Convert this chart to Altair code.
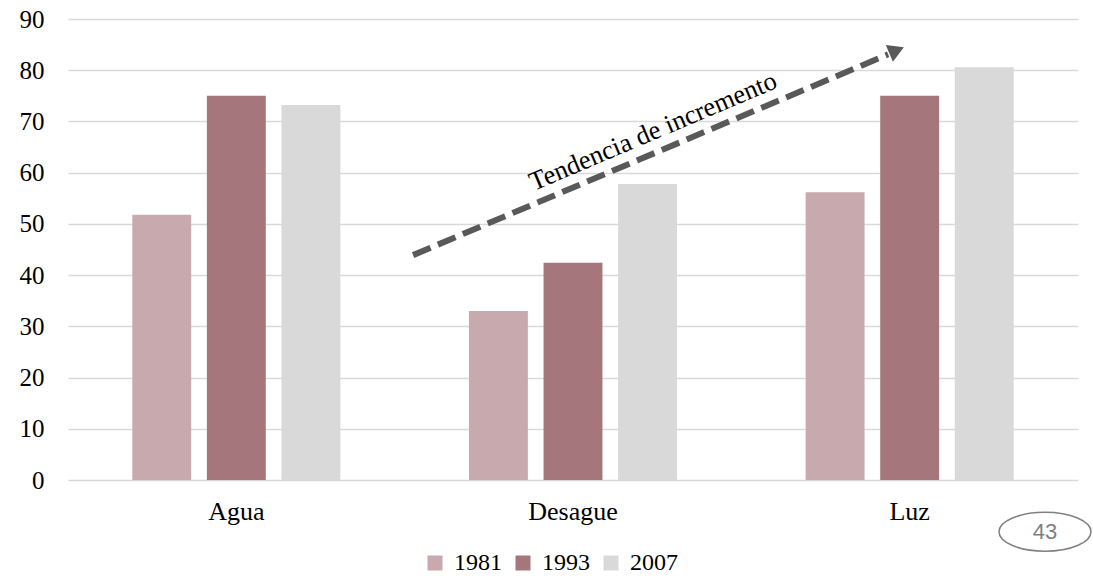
import altair as alt
import pandas as pd

# Service coverage by census year
servicios = ["Agua", "Desague", "Luz"]
anios = ["1981", "1993", "2007"]
valores_1981 = [51.8, 33.0, 56.2]
valores_1993 = [75.0, 42.4, 75.0]
valores_2007 = [73.2, 57.8, 80.6]
colores = ["#c8aaae", "#a5767b", "#d9d9d9"]

# Trend arrow, in category-index units (x) and percent (y)
flecha_x = [1.025, 2.436]
flecha_y = [43.9, 83.1]
punta_x = [2.454]
punta_y = [83.7]
texto_x = [1.738]
texto_y = [68.0]
pagina_x = [2.902]
pagina_y = [-10.1]

FONT = "Liberation Serif"

rows = []
for serie, vals in zip(anios, [valores_1981, valores_1993, valores_2007]):
    for s, v in zip(servicios, vals):
        rows.append({"servicio": s, "anio": serie, "valor": v})
df = pd.DataFrame(rows)

yscale = alt.Scale(domain=[0, 90], nice=False)

bars = alt.Chart(df).mark_bar().encode(
    x=alt.X("servicio:N", sort=servicios, title=None,
            scale=alt.Scale(paddingInner=0.382, paddingOuter=0.191),
            axis=alt.Axis(labelAngle=0, labelFont=FONT, labelFontSize=26,
                          labelColor="#000000", labelPadding=18, ticks=False,
                          domain=False)),
    xOffset=alt.XOffset("anio:N", sort=anios,
                        scale=alt.Scale(paddingInner=0.21, paddingOuter=0)),
    y=alt.Y("valor:Q", scale=yscale, title=None,
            axis=alt.Axis(values=list(range(0, 91, 10)), labelFont=FONT,
                          labelFontSize=25, labelColor="#000000",
                          labelPadding=24, ticks=False, domain=False,
                          grid=True, gridColor="#d9d9d9", gridWidth=1.5)),
    color=alt.Color("anio:N", sort=anios,
                    scale=alt.Scale(domain=anios, range=colores),
                    legend=alt.Legend(title=None, orient="none", direction="horizontal",
                                      legendX=355, legendY=532,
                                      symbolType="square", symbolSize=225,
                                      symbolStrokeWidth=0, labelFont=FONT,
                                      labelFontSize=24, labelColor="#000000",
                                      labelOffset=7, columnPadding=9, padding=0)),
)

xq = alt.Scale(domain=[0, 3], nice=False, zero=False)

linea_df = pd.DataFrame({"x": flecha_x, "y": flecha_y})
linea = alt.Chart(linea_df).mark_line(
    color="#595959", strokeWidth=6, strokeDash=[19, 8], strokeCap="butt"
).encode(
    x=alt.X("x:Q", scale=xq, axis=None),
    y=alt.Y("y:Q", scale=yscale),
)

punta = alt.Chart(pd.DataFrame({"x": punta_x, "y": punta_y})).mark_point(
    shape="triangle", size=330, filled=True, color="#595959", opacity=1, angle=67
).encode(
    x=alt.X("x:Q", scale=xq, axis=None),
    y=alt.Y("y:Q", scale=yscale),
)

texto = alt.Chart(pd.DataFrame({"x": texto_x, "y": texto_y,
                                "t": ["Tendencia de incremento"]})).mark_text(
    font=FONT, fontSize=26.5, angle=337, color="#000000",
    align="center", baseline="middle"
).encode(
    x=alt.X("x:Q", scale=xq, axis=None),
    y=alt.Y("y:Q", scale=yscale),
    text="t:N",
)

pagina_df = pd.DataFrame({"x": pagina_x, "y": pagina_y, "t": ["43"]})
elipse = alt.Chart(pagina_df).mark_point(
    shape="M-1,0A1,0.424,0,1,0,1,0A1,0.424,0,1,0,-1,0Z",
    size=8464, filled=False, color="#808080", strokeWidth=1.5, opacity=1
).encode(
    x=alt.X("x:Q", scale=xq, axis=None),
    y=alt.Y("y:Q", scale=yscale),
)
numero = alt.Chart(pagina_df).mark_text(
    font="Liberation Sans", fontSize=22, color="#7f7f7f", align="center",
    baseline="middle"
).encode(
    x=alt.X("x:Q", scale=xq, axis=None),
    y=alt.Y("y:Q", scale=yscale),
    text="t:N",
)

chart = alt.layer(bars, linea, punta, texto, elipse, numero).resolve_scale(
    x="independent"
).properties(
    width=1010, height=461,
    autosize=alt.AutoSizeParams(type="none"),
    padding={"left": 68, "top": 19, "right": 15, "bottom": 96},
    background="white",
).configure_view(stroke=None)

chart.save("out.html", embed_options={"renderer": "svg", "actions": False})
